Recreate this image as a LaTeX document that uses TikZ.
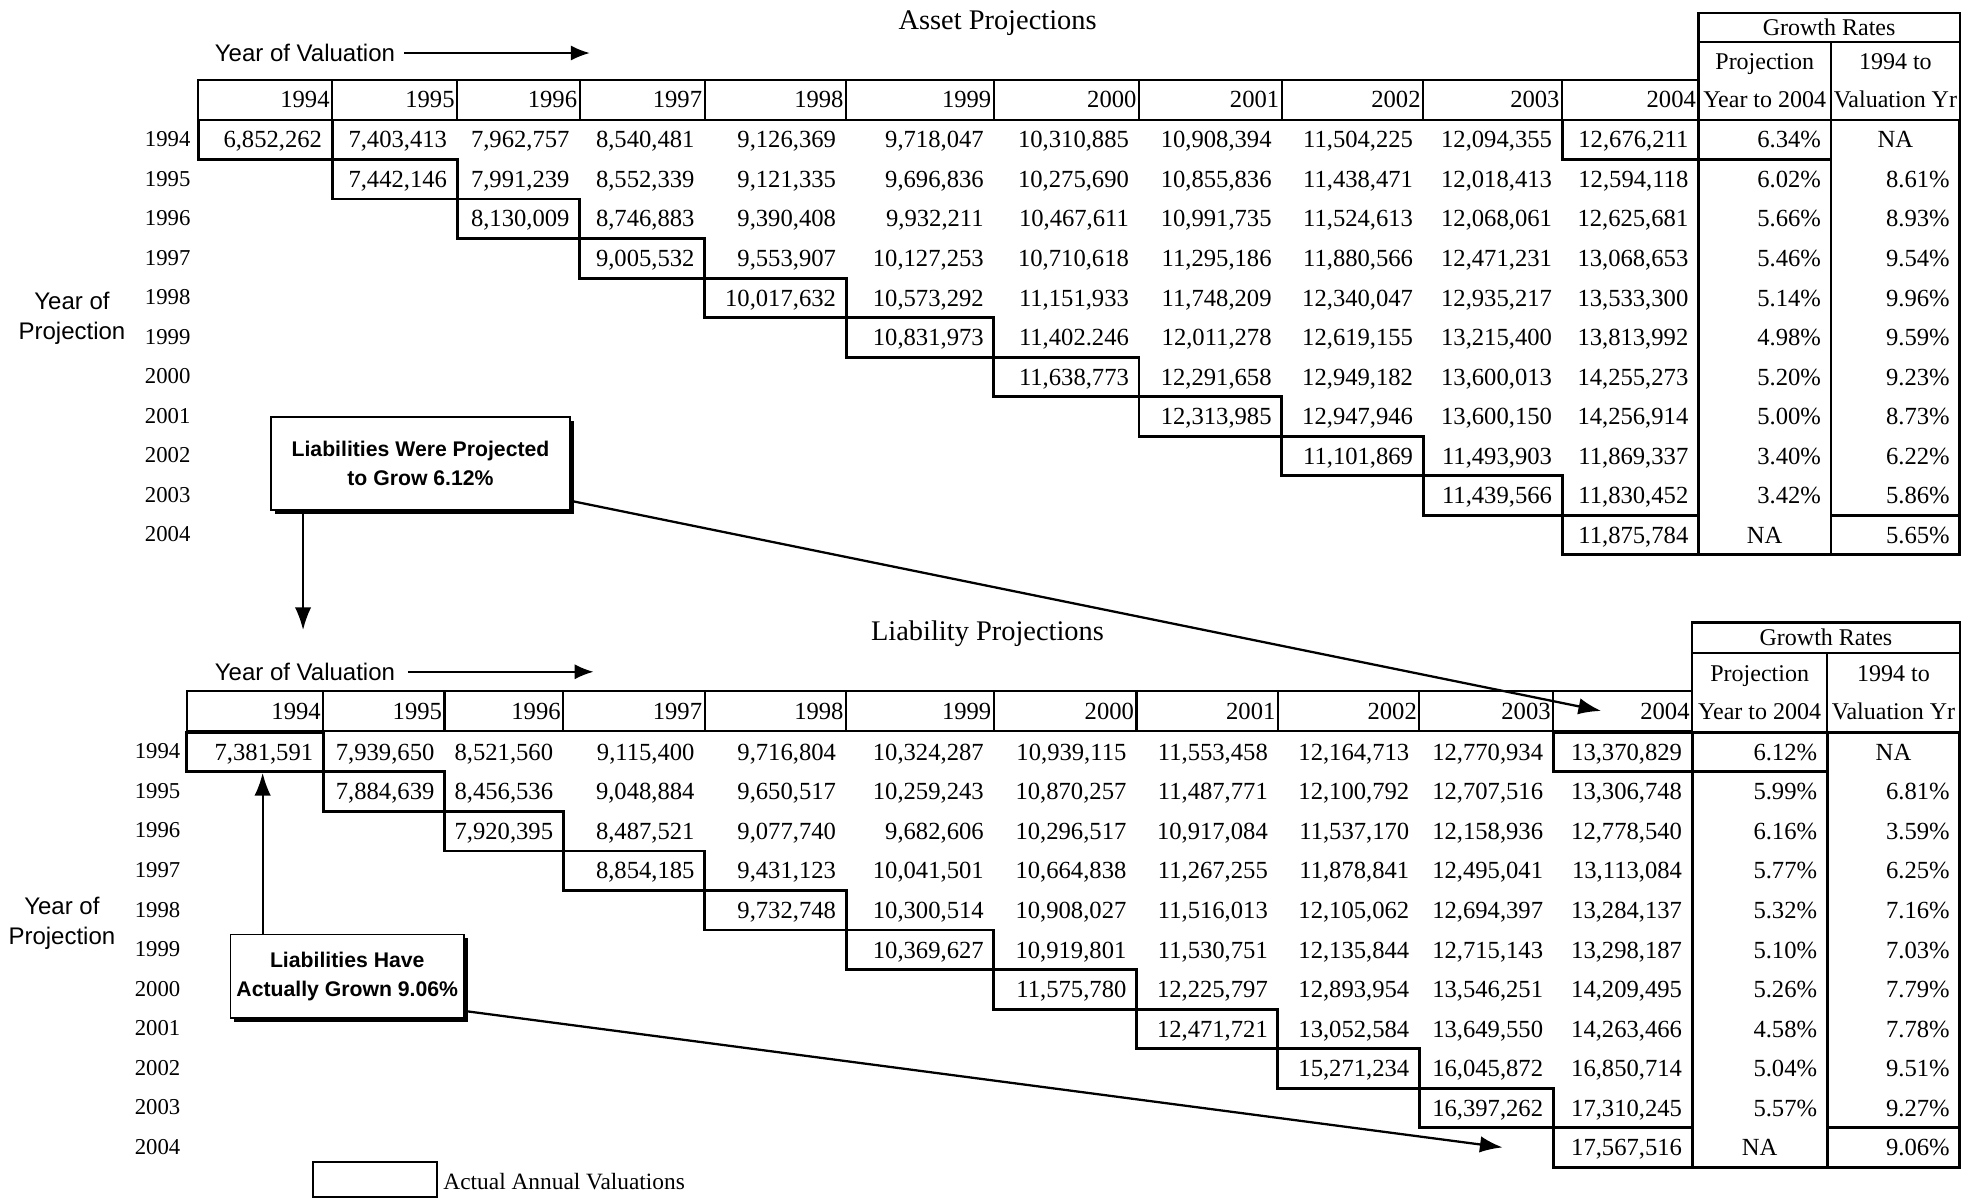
\documentclass[tikz,border=0pt]{standalone}
\usepackage{fontspec}
\setmainfont{Liberation Serif}
\setsansfont{Liberation Sans}
\usetikzlibrary{calc,positioning,arrows.meta,shadows}

% column edges of the two tables (11 years + 2 growth columns)
\def\acol{{157,263,362,459,558,670,787,902,1015,1127,1237,1345,1450,1552}}
\def\lcol{{148,256,352,446,558,670,787,900,1012,1124,1230,1340,1447,1552}}

\newcommand{\numfont}{\fontsize{19.5}{20}\selectfont}
\newcommand{\labelfont}{\sffamily\fontsize{19}{24}\selectfont}

\tikzset{
    cell/.style={
        rectangle,
        anchor=north west,
        inner xsep=8pt, inner ysep=0pt, outer sep=0pt,
        minimum height=31.3pt,
        text height=13pt, text depth=0pt,
        align=right,
        font=\numfont
    },
    headcell/.style={cell, draw, line width=1.6pt, inner xsep=2pt, minimum height=32pt},
    growthhead/.style={
        rectangle, draw, line width=1.7pt,
        anchor=north west,
        inner sep=0pt, outer sep=0pt,
        align=center,
        font=\fontsize{19}{30}\selectfont
    },
    boxline/.style={draw, line width=2.3pt},
    rowlabel/.style={anchor=base east, inner sep=0pt, font=\fontsize{18}{20}\selectfont},
    sidelabel/.style={align=center, inner sep=0pt, font=\labelfont},
    tabletitle/.style={inner sep=0pt, font=\fontsize{22.5}{24}\selectfont},
    callout/.style={
        rectangle, draw, line width=1.3pt, fill=white,
        align=center, inner sep=0pt,
        font=\sffamily\bfseries\fontsize{16.8}{23}\selectfont,
        drop shadow={shadow xshift=3pt, shadow yshift=-3pt, opacity=1, fill=black}
    },
    pointer/.style={-{Latex[length=18pt,width=13pt]}, line width=1.8pt},
    valarrow/.style={-{Latex[length=15pt,width=12pt]}, line width=1.3pt},
}

% one row of values: #1 prefix, #2 row, #3 column edges, #4 top of body, #5 values
\newcommand{\projrow}[5]{%
    \foreach \v [count=\c from #2] in {#5} {
        \pgfmathsetmacro\xl{#3[\c]}
        \pgfmathsetmacro\tw{#3[\c+1]-#3[\c]-16}
        \pgfmathsetmacro\yt{#4+31.3*#2}
        \node[cell, text width=\tw pt] (#1-#2-\c) at (\xl,\yt) {\v};
    }%
}

\begin{document}
\begin{tikzpicture}[x=1pt, y=-1pt]
    \useasboundingbox (0,0) rectangle (1568,950);

    % ---------------- asset projections ----------------
    \node[tabletitle] (atitle) at (790,18) {Asset Projections};
    \node[sidelabel, anchor=west] (aval) at (170,42) {Year of Valuation};
    \coordinate (aval-tip) at (467,42);
    \draw[valarrow] ([xshift=7pt]aval.east) -- (aval-tip);
    \node[sidelabel] (aside) at (57,252) {Year of\\Projection};

    \foreach \yr [count=\c from 0] in {1994,...,2004} {
        \pgfmathsetmacro\xl{\acol[\c]}
        \pgfmathsetmacro\tw{\acol[\c+1]-\acol[\c]-4}
        \node[headcell, text width=\tw pt] (ah-\yr) at (\xl,63) {\yr};
    }
    \foreach \yr [count=\r from 0] in {1994,...,2004}
        \node[rowlabel] (ar-\yr) at (151,{95+31.3*\r+21}) {\yr};

    \node[growthhead, minimum width=207pt, minimum height=23pt] (ag-title) at (1345,10) {Growth Rates};
    \node[growthhead, minimum width=105pt, minimum height=62pt] (ag-proj) at (ag-title.south west) {Projection\\Year to 2004};
    \node[growthhead, minimum width=102pt, minimum height=62pt] (ag-yr) at (ag-proj.north east) {1994 to\\Valuation Yr};

    \projrow{a}{0}{\acol}{95}{{6,852,262},{7,403,413},{7,962,757},{8,540,481},{9,126,369},{9,718,047},{10,310,885},{10,908,394},{11,504,225},{12,094,355},{12,676,211},6.34\%,\makebox[\linewidth]{NA}}
    \projrow{a}{1}{\acol}{95}{{7,442,146},{7,991,239},{8,552,339},{9,121,335},{9,696,836},{10,275,690},{10,855,836},{11,438,471},{12,018,413},{12,594,118},6.02\%,8.61\%}
    \projrow{a}{2}{\acol}{95}{{8,130,009},{8,746,883},{9,390,408},{9,932,211},{10,467,611},{10,991,735},{11,524,613},{12,068,061},{12,625,681},5.66\%,8.93\%}
    \projrow{a}{3}{\acol}{95}{{9,005,532},{9,553,907},{10,127,253},{10,710,618},{11,295,186},{11,880,566},{12,471,231},{13,068,653},5.46\%,9.54\%}
    \projrow{a}{4}{\acol}{95}{{10,017,632},{10,573,292},{11,151,933},{11,748,209},{12,340,047},{12,935,217},{13,533,300},5.14\%,9.96\%}
    \projrow{a}{5}{\acol}{95}{{10,831,973},{11,402.246},{12,011,278},{12,619,155},{13,215,400},{13,813,992},4.98\%,9.59\%}
    \projrow{a}{6}{\acol}{95}{{11,638,773},{12,291,658},{12,949,182},{13,600,013},{14,255,273},5.20\%,9.23\%}
    \projrow{a}{7}{\acol}{95}{{12,313,985},{12,947,946},{13,600,150},{14,256,914},5.00\%,8.73\%}
    \projrow{a}{8}{\acol}{95}{{11,101,869},{11,493,903},{11,869,337},3.40\%,6.22\%}
    \projrow{a}{9}{\acol}{95}{{11,439,566},{11,830,452},3.42\%,5.86\%}
    \projrow{a}{10}{\acol}{95}{{11,875,784},\makebox[\linewidth]{NA},5.65\%}

    \draw[boxline] (ag-proj.south west) rectangle (a-10-11.south east);
    \draw[boxline] (ag-yr.south west) rectangle (a-10-12.south east);
    \foreach \r in {0,...,10}
        \draw[boxline] (a-\r-\r.north west) rectangle (a-\r-\r.south east);
    \foreach \cellname in {a-0-10,a-0-11,a-10-12}
        \draw[boxline] (\cellname.north west) rectangle (\cellname.south east);

    % ---------------- liability projections ----------------
    \node[tabletitle] (ltitle) at (782,502) {Liability Projections};
    \node[sidelabel, anchor=west] (lval) at (170,532) {Year of Valuation};
    \coordinate (lval-tip) at (470,532);
    \draw[valarrow] ([xshift=10pt]lval.east) -- (lval-tip);
    \node[sidelabel] (lside) at (49,731) {Year of\\Projection};

    \foreach \yr [count=\c from 0] in {1994,...,2004} {
        \pgfmathsetmacro\xl{\lcol[\c]}
        \pgfmathsetmacro\tw{\lcol[\c+1]-\lcol[\c]-4}
        \node[headcell, text width=\tw pt] (lh-\yr) at (\xl,547) {\yr};
    }
    \foreach \yr [count=\r from 0] in {1994,...,2004}
        \node[rowlabel] (lr-\yr) at (143,{580+31.3*\r+21}) {\yr};

    \node[growthhead, minimum width=212pt, minimum height=24pt] (lg-title) at (1340,493) {Growth Rates};
    \node[growthhead, minimum width=107pt, minimum height=63pt] (lg-proj) at (lg-title.south west) {Projection\\Year to 2004};
    \node[growthhead, minimum width=105pt, minimum height=63pt] (lg-yr) at (lg-proj.north east) {1994 to\\Valuation Yr};

    \projrow{l}{0}{\lcol}{580}{{7,381,591},{7,939,650},{8,521,560},{9,115,400},{9,716,804},{10,324,287},{10,939,115},{11,553,458},{12,164,713},{12,770,934},{13,370,829},6.12\%,\makebox[\linewidth]{NA}}
    \projrow{l}{1}{\lcol}{580}{{7,884,639},{8,456,536},{9,048,884},{9,650,517},{10,259,243},{10,870,257},{11,487,771},{12,100,792},{12,707,516},{13,306,748},5.99\%,6.81\%}
    \projrow{l}{2}{\lcol}{580}{{7,920,395},{8,487,521},{9,077,740},{9,682,606},{10,296,517},{10,917,084},{11,537,170},{12,158,936},{12,778,540},6.16\%,3.59\%}
    \projrow{l}{3}{\lcol}{580}{{8,854,185},{9,431,123},{10,041,501},{10,664,838},{11,267,255},{11,878,841},{12,495,041},{13,113,084},5.77\%,6.25\%}
    \projrow{l}{4}{\lcol}{580}{{9,732,748},{10,300,514},{10,908,027},{11,516,013},{12,105,062},{12,694,397},{13,284,137},5.32\%,7.16\%}
    \projrow{l}{5}{\lcol}{580}{{10,369,627},{10,919,801},{11,530,751},{12,135,844},{12,715,143},{13,298,187},5.10\%,7.03\%}
    \projrow{l}{6}{\lcol}{580}{{11,575,780},{12,225,797},{12,893,954},{13,546,251},{14,209,495},5.26\%,7.79\%}
    \projrow{l}{7}{\lcol}{580}{{12,471,721},{13,052,584},{13,649,550},{14,263,466},4.58\%,7.78\%}
    \projrow{l}{8}{\lcol}{580}{{15,271,234},{16,045,872},{16,850,714},5.04\%,9.51\%}
    \projrow{l}{9}{\lcol}{580}{{16,397,262},{17,310,245},5.57\%,9.27\%}
    \projrow{l}{10}{\lcol}{580}{{17,567,516},\makebox[\linewidth]{NA},9.06\%}

    \draw[boxline] (lg-proj.south west) rectangle (l-10-11.south east);
    \draw[boxline] (lg-yr.south west) rectangle (l-10-12.south east);
    \foreach \r in {0,...,10}
        \draw[boxline] (l-\r-\r.north west) rectangle (l-\r-\r.south east);
    \foreach \cellname in {l-0-10,l-0-11,l-10-12}
        \draw[boxline] (\cellname.north west) rectangle (\cellname.south east);

    % ---------------- notes ----------------
    \node[callout, minimum width=237pt, minimum height=74pt] (proj-note) at (333,367) {Liabilities Were Projected\\to Grow 6.12\%};
    \node[callout, minimum width=185pt, minimum height=66pt] (act-note) at (275,773) {Liabilities Have\\Actually Grown 9.06\%};

    \coordinate (drop) at (240,499);
    \coordinate (rise) at (208,612);
    \draw[pointer] (proj-note.south -| drop) -- (drop);
    \draw[pointer] ([yshift=8pt]proj-note.south east) -- ([xshift=38pt]lh-2004.west);
    \draw[pointer] (act-note.north -| rise) -- (rise);
    \draw[pointer] ([yshift=6pt]act-note.south east) -- ([xshift=-40pt]l-10-10.west);

    % legend
    \node[draw, line width=1.7pt, anchor=north west, inner sep=0pt, outer sep=0pt,
        minimum width=98pt, minimum height=28pt] (legend-box) at (248,920) {};
    \node[anchor=base west, inner sep=0pt, font=\fontsize{18.5}{20}\selectfont] (legend-text) at (351,942) {Actual Annual Valuations};
\end{tikzpicture}
\end{document}
